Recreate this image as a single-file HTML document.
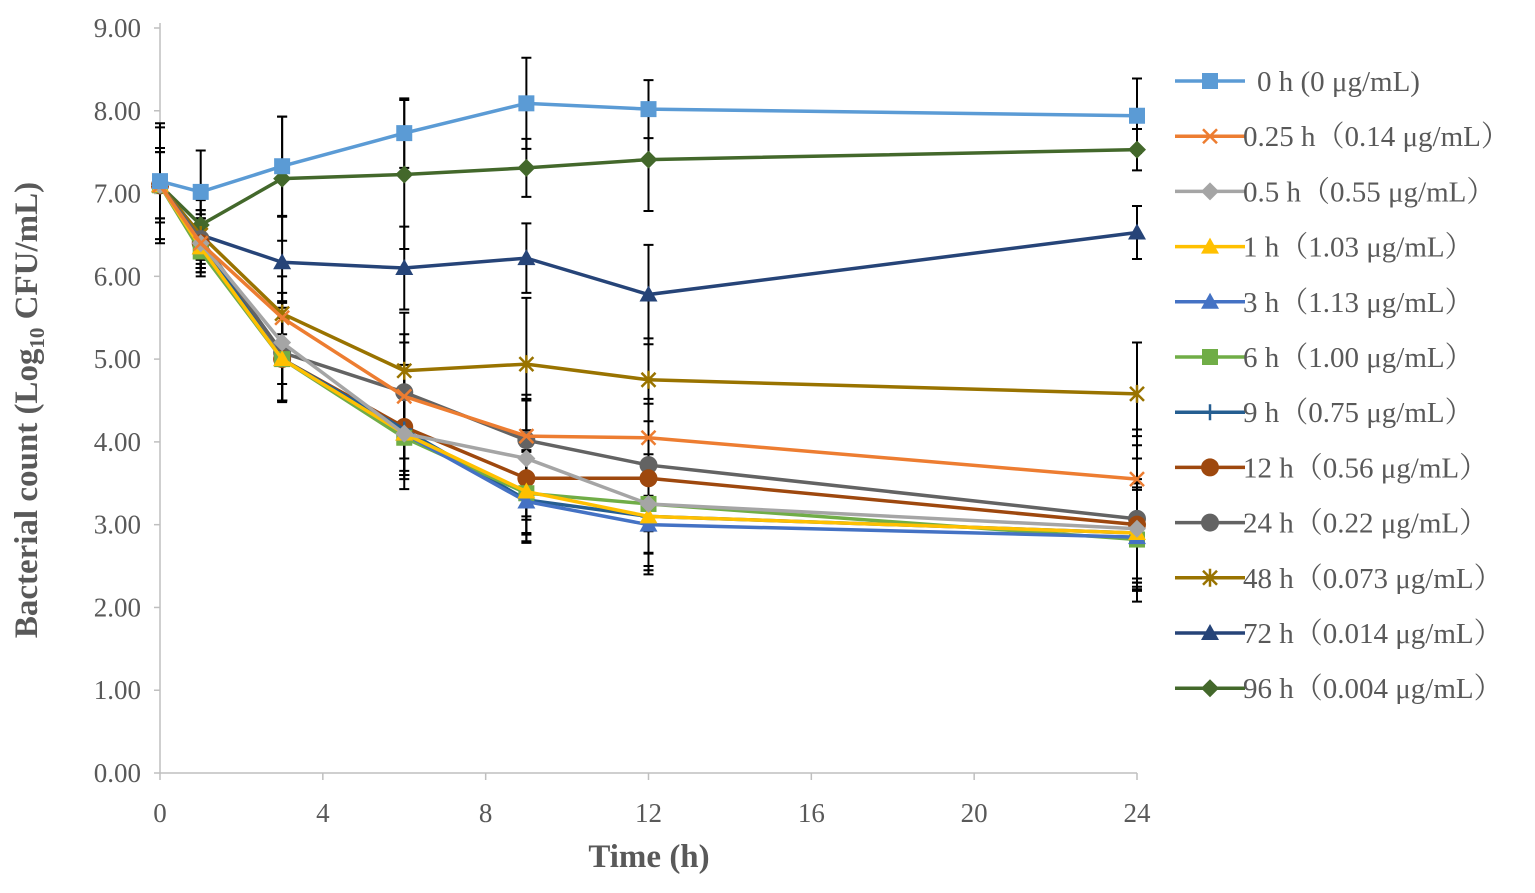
<!DOCTYPE html>
<html><head><meta charset="utf-8"><style>
body{margin:0;background:#fff;}
svg text{font-family:"Liberation Serif","Noto Serif CJK SC",serif;}
</style></head><body>
<svg id="chart" width="1535" height="888" xmlns="http://www.w3.org/2000/svg"></svg>
<script>
const times=[0,1,3,6,9,12,24];
const yTicks=[0,1,2,3,4,5,6,7,8,9];
const xTicks=[0,4,8,12,16,20,24];
const labels=["0 h (0 μg/mL)","0.25 h（0.14 μg/mL）","0.5 h（0.55 μg/mL）","1 h（1.03 μg/mL）","3 h（1.13 μg/mL）","6 h（1.00 μg/mL）","9 h（0.75 μg/mL）","12 h（0.56 μg/mL）","24 h（0.22 μg/mL）","48 h（0.073 μg/mL）","72 h（0.014 μg/mL）","96 h（0.004 μg/mL）"];
const colors=["#5b9bd5","#ed7d31","#a5a5a5","#ffc000","#4472c4","#70ad47","#255e91","#9e480e","#636363","#997300","#264478","#43682b"];
const markers=["square","x","diamond","triangle","triangle","square","plus","circle","circle","star","triangle","diamond"];
const s0=[7.15,7.02,7.33,7.73,8.09,8.02,7.94];
const s1=[7.1,6.4,5.5,4.55,4.07,4.05,3.55];
const s2=[7.1,6.4,5.2,4.1,3.8,3.25,2.95];
const s3=[7.1,6.35,5.0,4.1,3.4,3.1,2.9];
const s4=[7.1,6.35,5.0,4.1,3.28,3.0,2.85];
const s5=[7.1,6.3,5.0,4.05,3.38,3.25,2.82];
const s6=[7.1,6.4,5.0,4.15,3.3,3.1,2.9];
const s7=[7.1,6.4,5.0,4.18,3.56,3.56,3.0];
const s8=[7.1,6.45,5.08,4.6,4.02,3.72,3.07];
const s9=[7.1,6.5,5.55,4.86,4.94,4.75,4.58];
const s10=[7.1,6.5,6.17,6.1,6.22,5.78,6.53];
const s11=[7.1,6.62,7.18,7.23,7.31,7.41,7.53];
const e0=[0.7,0.5,0.6,0.42,0.55,0.35,0.45];
const e1=[0.45,0.3,0.5,0.75,0.5,0.7,0.6];
const e2=[0.45,0.3,0.5,0.5,0.7,0.8,0.6];
const e3=[0.45,0.3,0.5,0.5,0.5,0.6,0.6];
const e4=[0.45,0.3,0.5,0.5,0.5,0.6,0.6];
const e5=[0.45,0.3,0.5,0.5,0.5,0.6,0.6];
const e6=[0.45,0.3,0.5,0.5,0.5,0.6,0.6];
const e7=[0.45,0.3,0.5,0.75,0.5,0.9,0.8];
const e8=[0.45,0.3,0.6,0.6,0.5,0.8,1.0];
const e9=[0.4,0.3,0.25,0.7,0.8,0.5,0.62];
const e10=[0.4,0.3,0.55,0.5,0.42,0.6,0.32];
const e11=[0.7,0.3,0.75,0.9,0.35,0.62,0.25];
const series=[s0,s1,s2,s3,s4,s5,s6,s7,s8,s9,s10,s11];
const errs=[e0,e1,e2,e3,e4,e5,e6,e7,e8,e9,e10,e11];
const X0=160,X1=1137,Y0=773,Y1=28;
const xs=v=>X0+(v/24)*(X1-X0);
const ys=v=>Y0-(v/9)*(Y0-Y1);
const svg=document.getElementById('chart');
const NS="http://www.w3.org/2000/svg";
function mk(tag,attrs,parent){const e=document.createElementNS(NS,tag);for(const k in attrs)e.setAttribute(k,attrs[k]);(parent||svg).appendChild(e);return e;}
const ax=mk('line',{x1:X0,y1:Y1-5,x2:X0,y2:Y0,stroke:'#bfbfbf','stroke-width':1.5});


const bx=mk('line',{x1:X0,y1:Y0,x2:X1,y2:Y0,stroke:'#bfbfbf','stroke-width':1.5});


yTicks.forEach(v=>{
 const t=mk('text',{x:141,y:ys(v)+9,'text-anchor':'end','font-size':27,fill:'#595959'});
 t.textContent=v.toFixed(2);
 
 
 mk('line',{x1:X0-6,y1:ys(v),x2:X0,y2:ys(v),stroke:'#bfbfbf','stroke-width':1.5});
});
xTicks.forEach(v=>{
 mk('line',{x1:xs(v),y1:Y0,x2:xs(v),y2:Y0+7,stroke:'#bfbfbf','stroke-width':1.5});
 const t=mk('text',{x:xs(v),y:822,'text-anchor':'middle','font-size':27,fill:'#595959'});
 t.textContent=v;
 
 
});
const xt=mk('text',{x:649,y:867,'text-anchor':'middle','font-size':33,'font-weight':'bold',fill:'#595959'});
xt.textContent='Time (h)';


const yt=mk('text',{x:0,y:0,transform:'translate(37,410) rotate(-90)','text-anchor':'middle','font-size':33,'font-weight':'bold',fill:'#595959'});
yt.innerHTML='Bacterial count (Log<tspan font-size="21" dy="7">10</tspan><tspan dy="-7"> CFU/mL)</tspan>';


function marker(g,type,x,y,c){
 const r=8;
 if(type==='square')mk('rect',{x:x-r,y:y-r,width:2*r,height:2*r,fill:c},g);
 else if(type==='circle')mk('circle',{cx:x,cy:y,r:r+1,fill:c},g);
 else if(type==='diamond')mk('polygon',{points:`${x},${y-r-1} ${x+r+1},${y} ${x},${y+r+1} ${x-r-1},${y}`,fill:c},g);
 else if(type==='triangle')mk('polygon',{points:`${x},${y-r-1} ${x+r+1},${y+r-1} ${x-r-1},${y+r-1}`,fill:c},g);
 else if(type==='x')mk('path',{d:`M${x-7} ${y-7}L${x+7} ${y+7}M${x+7} ${y-7}L${x-7} ${y+7}`,stroke:c,'stroke-width':2.5},g);
 else if(type==='plus')mk('path',{d:`M${x-8} ${y}L${x+8} ${y}M${x} ${y-8}L${x} ${y+8}`,stroke:c,'stroke-width':2.5},g);
 else if(type==='star')mk('path',{d:`M${x-7} ${y-7}L${x+7} ${y+7}M${x+7} ${y-7}L${x-7} ${y+7}M${x} ${y-9}L${x} ${y+9}`,stroke:c,'stroke-width':2.5},g);
}
series.forEach((s,i)=>{
 const g=mk('g',{});
 
 
 s.forEach((v,j)=>{
  const x=xs(times[j]),e=errs[i][j];
  mk('path',{d:`M${x} ${ys(v-e)}L${x} ${ys(v+e)}M${x-5} ${ys(v-e)}L${x+5} ${ys(v-e)}M${x-5} ${ys(v+e)}L${x+5} ${ys(v+e)}`,stroke:'#000','stroke-width':2,fill:'none'},g);
 });
});
for(let i=series.length-1;i>=0;i--){
 const s=series[i];
 const g=mk('g',{});
 
 
 mk('polyline',{points:s.map((v,j)=>xs(times[j])+','+ys(v)).join(' '),fill:'none',stroke:colors[i],'stroke-width':3.5},g);
 s.forEach((v,j)=>marker(g,markers[i],xs(times[j]),ys(v),colors[i]));
}
labels.forEach((l,i)=>{
 const y=81+i*55.2;
 const g=mk('g',{});
 
 
 mk('line',{x1:1175,y1:y,x2:1245,y2:y,stroke:colors[i],'stroke-width':3.5},g);
 marker(g,markers[i],1210,y,colors[i]);
 const t=mk('text',{x:l.startsWith('0 h')?1257:1243,y:y+10,'font-size':29,fill:'#595959'},g);
 t.textContent=l;
});
</script>
</body></html>
